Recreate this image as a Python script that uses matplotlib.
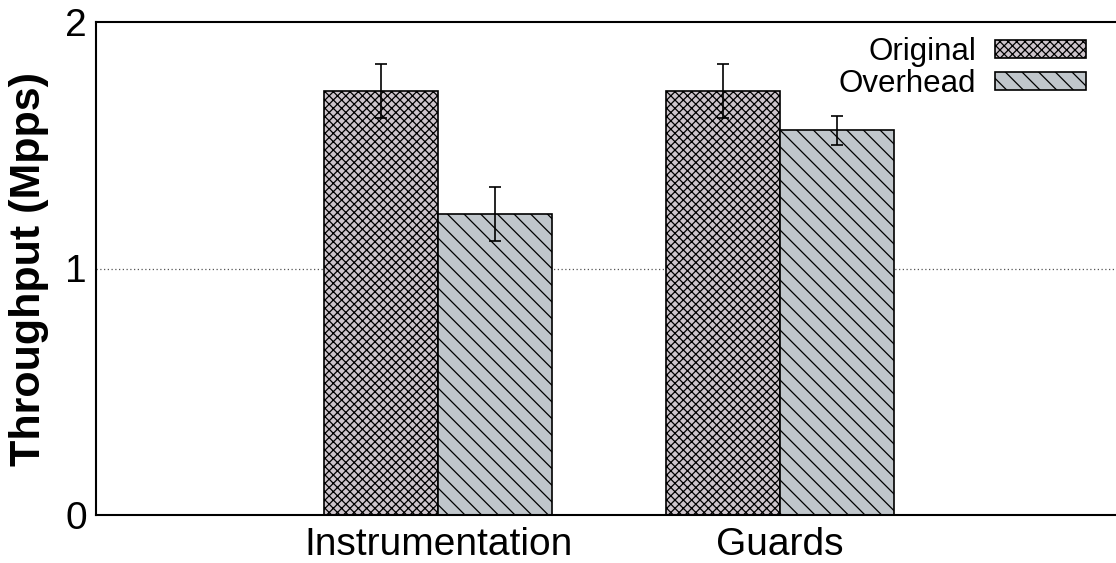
import matplotlib
matplotlib.use("Agg")
import matplotlib.pyplot as plt
import numpy as np

categories = ["Instrumentation", "Guards"]
series_names = ["Original", "Overhead"]
original = [1.72, 1.72]
original_err = [0.11, 0.11]
overhead = [1.22, 1.56]
overhead_err = [0.11, 0.06]
yticks = [0, 1, 2]

plt.rcParams['font.family'] = ['Liberation Sans', 'DejaVu Sans']
plt.rcParams['hatch.linewidth'] = 0.9

fig = plt.figure(figsize=(11.16, 5.63), dpi=100)
ax = fig.add_axes([96/1116, 1 - 515/563, 1026/1116, (515 - 22)/563])

x = np.arange(1, len(categories) + 1)
w = 1/3
ax.bar(x - w/2, original, w, color='#cdc4cb', edgecolor='black', hatch='xxxx',
       linewidth=1.2, label=series_names[0], zorder=2)
ax.bar(x + w/2, overhead, w, color='#c0c6cb', edgecolor='black', hatch='\\\\',
       linewidth=1.2, label=series_names[1], zorder=2)
ax.errorbar(x - w/2, original, yerr=original_err, fmt='none', ecolor='black',
            elinewidth=1.2, capsize=4, capthick=1.2, zorder=3)
ax.errorbar(x + w/2, overhead, yerr=overhead_err, fmt='none', ecolor='black',
            elinewidth=1.2, capsize=4, capthick=1.2, zorder=3)

ax.set_xlim(0, 3)
ax.set_ylim(0, 2)
ax.set_yticks(yticks)
ax.set_yticklabels([str(t) for t in yticks], fontsize=28)
ax.set_xticks(x)
ax.set_xticklabels(categories, fontsize=28)
ax.tick_params(axis='y', length=0, pad=6.5)
ax.tick_params(axis='x', length=0, pad=8.8)
ax.axhline(1, color='#555555', linestyle=(0, (1, 2)), linewidth=0.9, zorder=1)

for s in ['left', 'top', 'bottom']:
    ax.spines[s].set_linewidth(1.5)
ax.spines['right'].set_visible(False)

ax.set_ylabel("Throughput (Mpps)", fontsize=31, fontweight='bold', labelpad=12)

leg = ax.legend(loc='upper right', bbox_to_anchor=(1086/1116, 1 - 37/563),
                bbox_transform=fig.transFigure, frameon=False,
                markerfirst=False, fontsize=22.5, handlelength=2.9, handleheight=0.52,
                labelspacing=0.06, handletextpad=0.62, borderaxespad=0, borderpad=0)
for t in leg.get_texts():
    t.set_ha('right')

fig.savefig("out.png", dpi=100)
